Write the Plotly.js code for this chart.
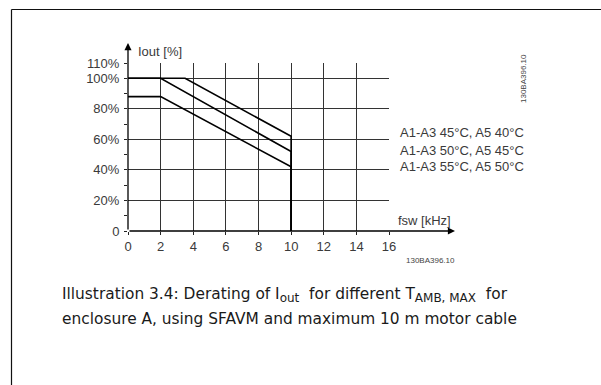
<!DOCTYPE html>
<html>
<head>
<meta charset="utf-8">
<script src="https://cdn.plot.ly/plotly-3.0.1.min.js"></script>
<style>
html,body{margin:0;padding:0;background:#fff;}
#chart{width:601px;height:385px;}
</style>
</head>
<body>
<div id="chart"></div>
<script>
// Data
var freqA = [0, 3.5, 10, 10];      // A1-A3 45°C, A5 40°C
var ioutA = [100, 100, 62, 0];
var freqB = [0, 2, 10, 10];        // A1-A3 50°C, A5 45°C
var ioutB = [100, 100, 52, 0];
var freqC = [0, 2, 10, 10];        // A1-A3 55°C, A5 50°C
var ioutC = [88, 88, 42, 0];
var seriesNames = ["A1-A3 45°C, A5 40°C", "A1-A3 50°C, A5 45°C", "A1-A3 55°C, A5 50°C"];
var yTickVals = [0, 20, 40, 60, 80, 100, 110];
var yTickText = ["0", "20%", "40%", "60%", "80%", "100%", "110%"];
var yMinorVals = [10, 30, 50, 70, 90];
var xTickVals = [0, 2, 4, 6, 8, 10, 12, 14, 16];
var xTickText = ["0", "2", "4", "6", "8", "10", "12", "14", "16"];

var lineStyle = {color: "#000", width: 1.6};
var traces = [
  {x: freqA, y: ioutA, name: seriesNames[0]},
  {x: freqB, y: ioutB, name: seriesNames[1]},
  {x: freqC, y: ioutC, name: seriesNames[2]}
].map(function(t){
  t.type = "scatter"; t.mode = "lines"; t.line = lineStyle;
  t.cliponaxis = false; t.showlegend = false; t.hoverinfo = "skip";
  return t;
});

var tickFont = {family: "Arial", size: 13, color: "#3a3a3a"};
var txtFont = {family: "Arial", size: 13, color: "#3a3a3a"};
var capFont = {family: "DejaVu Sans", size: 15.4, color: "#1a1a1a"};

// pixel helpers for paper coordinates (plot area x:128..389, y:63..231)
function px(x){ return (x - 128) / 261; }
function py(y){ return (231 - y) / 168; }

var subOpen = '<sub><span style="font-size:12px">';
var subClose = '</span></sub>';
var caption1 = "Illustration 3.4: Derating of I" + subOpen + "out" + subClose +
  "&nbsp; for different T" + subOpen + "AMB, MAX" + subClose + "&nbsp; for";
var caption2 = "enclosure A, using SFAVM and maximum 10 m motor cable";

var annotations = [
  {xref: "paper", yref: "paper", x: 0, y: py(43), ax: 0, ay: 188,
   showarrow: true, arrowhead: 2, arrowsize: 1.1, arrowwidth: 1.3, arrowcolor: "#000", text: ""},
  {xref: "paper", yref: "paper", x: px(455), y: 0, ax: -327, ay: 0,
   showarrow: true, arrowhead: 2, arrowsize: 1.1, arrowwidth: 1.3, arrowcolor: "#000", text: ""},
  {xref: "paper", yref: "paper", x: px(136), y: py(51.5), xanchor: "left", yanchor: "middle",
   showarrow: false, text: "Iout [%]", font: txtFont},
  {xref: "paper", yref: "paper", x: px(396), y: py(220.5), xanchor: "left", yanchor: "middle",
   showarrow: false, text: "fsw [kHz]", font: txtFont},
  {xref: "paper", yref: "paper", x: px(398), y: py(132.7), xanchor: "left", yanchor: "middle",
   showarrow: false, text: seriesNames[0], font: txtFont},
  {xref: "paper", yref: "paper", x: px(398), y: py(150.3), xanchor: "left", yanchor: "middle",
   showarrow: false, text: seriesNames[1], font: txtFont},
  {xref: "paper", yref: "paper", x: px(398), y: py(166.7), xanchor: "left", yanchor: "middle",
   showarrow: false, text: seriesNames[2], font: txtFont},
  {xref: "paper", yref: "paper", x: px(523), y: py(79), xanchor: "center", yanchor: "middle",
   textangle: -90, showarrow: false, text: "130BA396.10",
   font: {family: "Arial", size: 8, color: "#444"}},
  {xref: "paper", yref: "paper", x: px(430), y: py(260), xanchor: "center", yanchor: "middle",
   showarrow: false, text: "130BA396.10",
   font: {family: "Arial", size: 8, color: "#444"}},
  {xref: "paper", yref: "paper", x: px(60), y: py(295), xanchor: "left", yanchor: "middle",
   showarrow: false, text: caption1, font: capFont},
  {xref: "paper", yref: "paper", x: px(60), y: py(319), xanchor: "left", yanchor: "middle",
   showarrow: false, text: caption2, font: capFont}
];

var shapes = [
  {type: "line", xref: "paper", yref: "paper", x0: px(11.5), x1: px(601), y0: py(9.5), y1: py(9.5),
   line: {color: "#111", width: 1.2}},
  {type: "line", xref: "paper", yref: "paper", x0: px(11.5), x1: px(11.5), y0: py(9.5), y1: py(386),
   line: {color: "#111", width: 1.2}}
];

var layout = {
  width: 601, height: 385,
  margin: {l: 128, r: 212, t: 63, b: 154, pad: 0},
  paper_bgcolor: "#fff", plot_bgcolor: "#fff",
  showlegend: false,
  xaxis: {
    range: [0, 16], tickmode: "array", tickvals: xTickVals, ticktext: xTickText,
    showgrid: true, gridcolor: "#333", gridwidth: 1,
    zeroline: false, showline: false,
    ticks: "outside", ticklen: 3, tickcolor: "#222", tickwidth: 1,
    tickfont: tickFont, fixedrange: true
  },
  yaxis: {
    range: [0, 110], tickmode: "array", tickvals: yTickVals, ticktext: yTickText,
    showgrid: true, gridcolor: "#333", gridwidth: 1,
    zeroline: false, showline: false,
    ticks: "outside", ticklen: 3, tickcolor: "#222", tickwidth: 1,
    minor: {tickvals: yMinorVals, ticks: "outside", ticklen: 3, tickcolor: "#222", showgrid: false},
    tickfont: tickFont, fixedrange: true, ticklabelstandoff: 2
  },
  annotations: annotations,
  shapes: shapes
};

Plotly.newPlot("chart", traces, layout, {displayModeBar: false, staticPlot: true});
</script>
</body>
</html>
